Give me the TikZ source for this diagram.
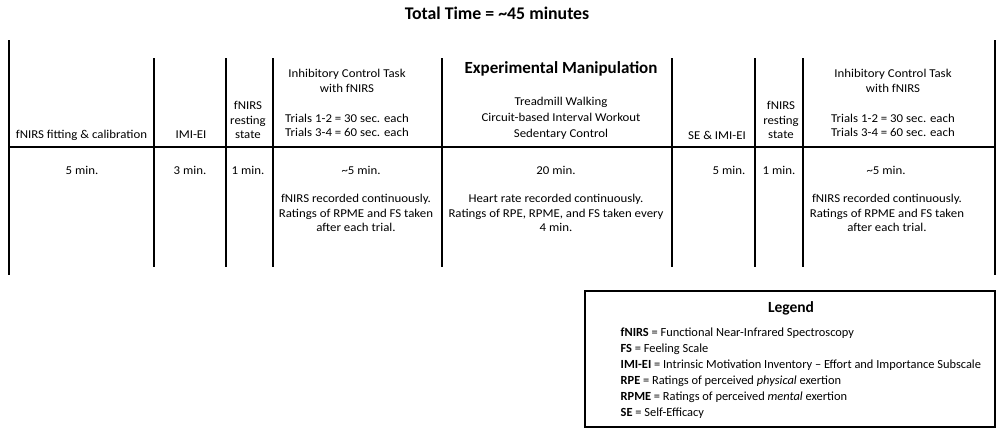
\documentclass[tikz,border=0pt]{standalone}
\usepackage{fontspec}
\setmainfont{Carlito}
\newfontfamily\tabfont{Carlito}[FakeStretch=1.07]
\begin{document}
\begin{tikzpicture}[x=1pt,y=-1pt,
  txt/.style={font=\tabfont\fontsize{12}{14.3}\selectfont, align=center, inner sep=0pt},
  txtw/.style={font=\tabfont\fontsize{12}{16}\selectfont, align=center, inner sep=0pt},
  hd/.style={font=\fontsize{17}{20}\selectfont\bfseries, inner sep=0pt},
  outerline/.style={line width=2pt},
  innerline/.style={line width=1.8pt},
  hline/.style={line width=1.5pt},
  leg/.style={font=\fontsize{12.4}{16}\selectfont, inner sep=0pt, anchor=base west}]
\useasboundingbox (0,0) rectangle (1000,429);

% table frame
\coordinate (L1) at (9,40);   \coordinate (L2) at (9,275);
\coordinate (R1) at (995,40); \coordinate (R2) at (995,275);
\coordinate (H1) at (9,147);  \coordinate (H2) at (995,147);
\draw[outerline] (L1) -- (L2);
\draw[outerline] (R1) -- (R2);
\draw[hline] (H1) -- (H2);
\foreach \x in {154,226,273,442,672,755,803}{
  \draw[innerline] (\x,58) -- (\x,267);
}

% title
\node[font=\fontsize{17.8}{21}\selectfont\bfseries, inner sep=0pt] (title) at (497,13) {Total Time = \textasciitilde45 minutes};

% header row
\node[txt] (h1) at (81.5,135) {fNIRS fitting \& calibration};
\node[txt] (h2) at (191,135) {IMI-EI};
\node[txt] (h3) at (248,120) {fNIRS\\resting\\state};
\node[txt] (h4) at (347,103) {Inhibitory Control Task\\[0.7pt]with fNIRS\\[15.4pt]Trials 1-2 = 30 sec. each\\Trials 3-4 = 60 sec. each};
\node[hd] (h5t) at (561,69) {Experimental Manipulation};
\node[txtw] (h5) at (561,118) {Treadmill Walking\\Circuit-based Interval Workout\\Sedentary Control};
\node[txt] (h6) at (717,135) {SE \& IMI-EI};
\node[txt] (h7) at (781,120) {fNIRS\\resting\\state};
\node[txt] (h8) at (893,103) {Inhibitory Control Task\\[0.7pt]with fNIRS\\[15.4pt]Trials 1-2 = 30 sec. each\\Trials 3-4 = 60 sec. each};

% data row
\node[txt] (d1) at (82,170) {5 min.};
\node[txt] (d2) at (190,170) {3 min.};
\node[txt] (d3) at (248,170) {1 min.};
\node[txt] (d4) at (361,170) {\textasciitilde5 min.};
\node[txt] (n4) at (356,213) {fNIRS recorded continuously.\\Ratings of RPME and FS taken\\after each trial.};
\node[txt] (d5) at (556,170) {20 min.};
\node[txt] (n5) at (556,213) {Heart rate recorded continuously.\\Ratings of RPE, RPME, and FS taken every\\4 min.};
\node[txt] (d6) at (729,170) {5 min.};
\node[txt] (d7) at (779,170) {1 min.};
\node[txt] (d8) at (886,170) {\textasciitilde5 min.};
\node[txt] (n8) at (887,213) {fNIRS recorded continuously.\\Ratings of RPME and FS taken\\after each trial.};

% legend
\node[draw, line width=2pt, minimum width=410pt, minimum height=136pt, inner sep=0pt] (legbox) at (790,359) {};
\node[font=\fontsize{15.5}{18}\selectfont\bfseries, inner sep=0pt] (legt) at (791,308) {Legend};
\node[leg] (l1) at (620.5,336) {\textbf{fNIRS} = Functional Near-Infrared Spectroscopy};
\node[leg] (l2) at (620.5,352) {\textbf{FS} = Feeling Scale};
\node[leg] (l3) at (620.5,368) {\textbf{IMI-EI} = Intrinsic Motivation Inventory \textendash{} Effort and Importance Subscale};
\node[leg] (l4) at (620.5,384) {\textbf{RPE} = Ratings of perceived \textit{physical} exertion};
\node[leg] (l5) at (620.5,400) {\textbf{RPME} = Ratings of perceived \textit{mental} exertion};
\node[leg] (l6) at (620.5,416) {\textbf{SE} = Self-Efficacy};
\end{tikzpicture}
\end{document}
